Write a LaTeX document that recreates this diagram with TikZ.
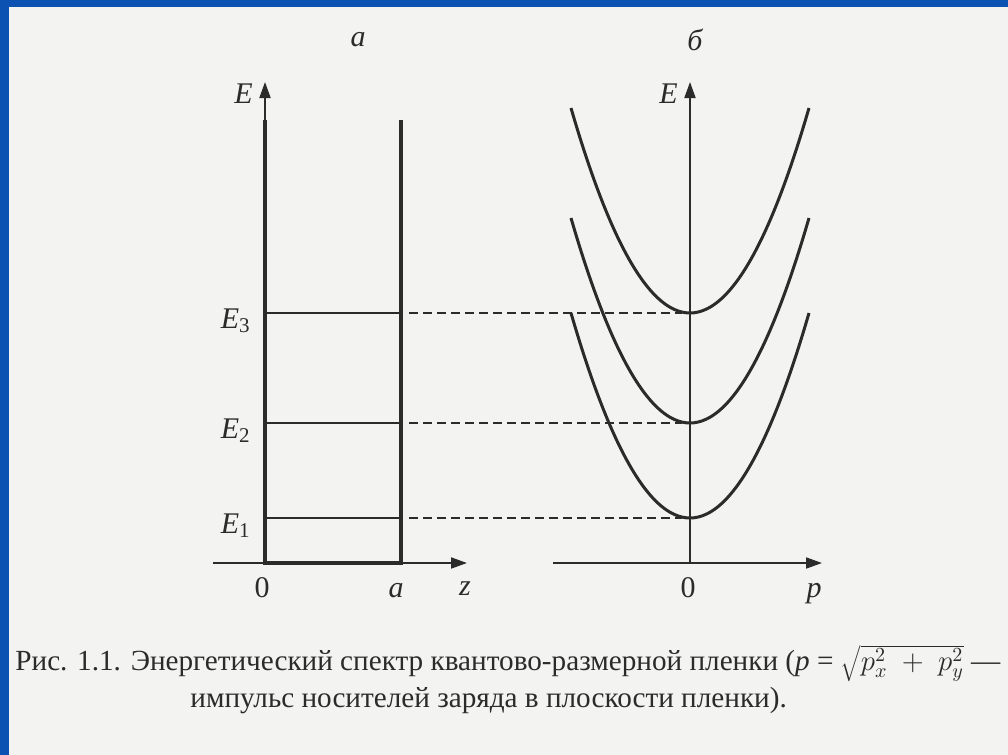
\documentclass[tikz,border=0pt]{standalone}
\usepackage{fontspec}
\setmainfont{Liberation Serif}
\usepackage{xcolor}
\usetikzlibrary{arrows.meta, positioning}

\definecolor{slideblue}{HTML}{0B52B2}
\definecolor{paper}{HTML}{F3F3F1}
\definecolor{ink}{HTML}{2B2B2B}

\tikzset{
    axis/.style={ink, line width=0.9pt, -{Triangle[length=8pt, width=5.5pt]}},
    wall/.style={ink, line width=1.6pt},
    level/.style={ink, line width=1.4pt},
    band/.style={ink, line width=1.5pt, domain=-119:119, samples=61, smooth},
    guide/.style={ink, line width=0.8pt, dash pattern=on 4.5pt off 2.5pt},
    lbl/.style={ink, inner sep=0pt, font=\fontsize{15}{15}\selectfont},
    ilbl/.style={lbl, font=\itshape\fontsize{15}{15}\selectfont},
    captext/.style={ink, inner sep=0pt, font=\fontsize{14.6}{17}\selectfont}
}

\begin{document}
\begin{tikzpicture}[x=0.5pt, y=-0.5pt]

    % Slide frame and scanned page
    \useasboundingbox (0,0) rectangle (1008,755);
    \clip (0,0) rectangle (1008,755);
    \fill[slideblue] (0,0) rectangle (1008,755);
    \fill[paper] (9,7) rectangle (1008,755);

    % Panel titles
    \node[ilbl] (ta) at (358,40) {а};
    \node[ilbl] (tb) at (695,40) {б};

    % Panel a: axes
    \coordinate (oa) at (265,563);
    \coordinate (za) at (213,563);
    \coordinate (ztip) at (467,563);
    \coordinate (eatip) at (265,82);
    \draw[axis] (za) -- (ztip);
    \draw[axis] (oa) -- (eatip);
    \node[ilbl, left=6pt of eatip, yshift=-6pt] (ea) {E};

    % Panel a: the well
    \coordinate (wl) at (265,120);
    \coordinate (wr) at (401,120);
    \coordinate (br) at (401,563);
    \draw[wall] (wl) -- (oa) -- (br) -- (wr);

    % Panel a: levels
    \foreach \n/\y in {1/518, 2/423, 3/313} {
        \coordinate (l\n) at (265,\y);
        \coordinate (r\n) at (401,\y);
        \draw[level] (l\n) -- (r\n);
        \node[lbl, left=7pt of l\n, yshift=-4pt] (lab\n) {\itshape E\textsubscript{\upshape\n}};
    }

    % Panel a: axis labels
    \node[lbl] (zero a) at (262,588) {0};
    \node[ilbl] (wa) at (396,591) {a};
    \node[ilbl] (zlab) at (465,589) {z};

    % Panel b: axes
    \coordinate (ob) at (690,563);
    \coordinate (pa) at (553,563);
    \coordinate (ptip) at (822,563);
    \coordinate (ebtip) at (690,82);
    \draw[axis] (pa) -- (ptip);
    \draw[axis] (ob) -- (ebtip);
    \node[ilbl, left=6pt of ebtip, yshift=-6pt] (eb) {E};
    \node[lbl] (zero b) at (688,588) {0};
    \node[ilbl] (plab) at (814,594) {p};

    % Panel b: subbands and their bottoms
    \foreach \n/\y in {1/518, 2/423, 3/313} {
        \coordinate (v\n) at (690,\y);
        \draw[band] plot ({690+\x}, {\y-205*(\x/119)^2});
        \draw[guide, shorten <=4pt, shorten >=4pt] (r\n) -- (v\n);
    }

    % Caption
    \node[captext, anchor=base west] (cap1) at (15,670)
        {Рис. 1.1. Энергетический спектр квантово-размерной пленки (\textit{p} = $\sqrt{p_x^2 \;+\; p_y^2}$ ---};
    \node[captext, anchor=base west] (cap2) at (190,707)
        {импульс носителей заряда в плоскости пленки).};

\end{tikzpicture}
\end{document}
